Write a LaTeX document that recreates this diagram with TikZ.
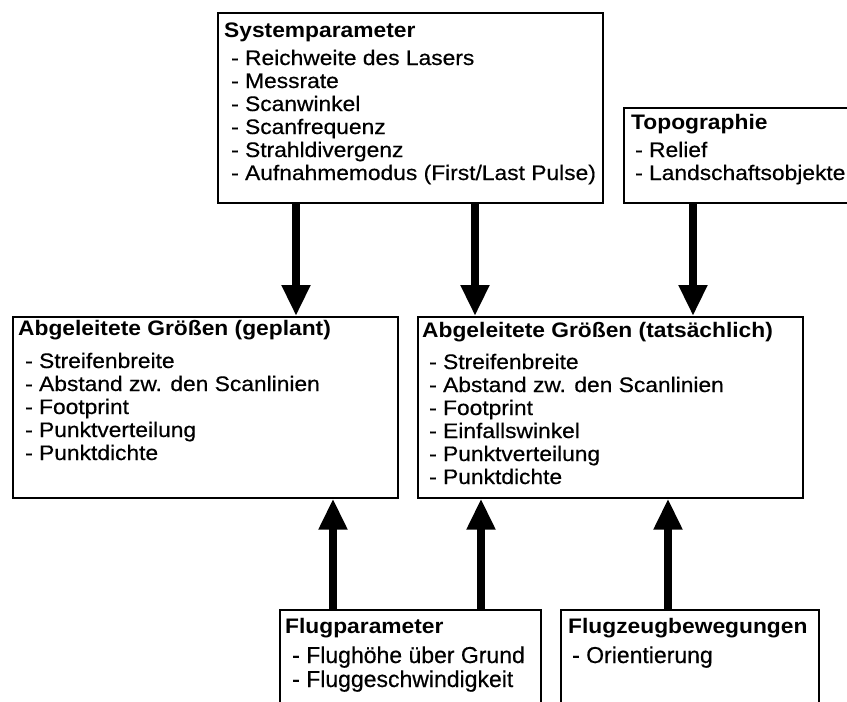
\documentclass[tikz,border=0pt]{standalone}
\usepackage{fontspec}
\setmainfont{Liberation Sans}
\newfontfamily\widesans[FakeStretch=1.085]{Liberation Sans}
\newfontfamily\widesanslist[FakeStretch=1.085, FakeBold=0.5]{Liberation Sans}
\newfontfamily\sanslist[FakeBold=0.5]{Liberation Sans}
\usetikzlibrary{arrows.meta}

\tikzset{
  panel/.style={draw=black, line width=1.6pt, anchor=north west, inner sep=0pt},
  flow/.style={line width=8pt, -{Triangle[width=27pt,length=31pt]}},
  heading/.style={anchor=base west, inner sep=0pt, font=\widesans\bfseries\fontsize{21}{23}\selectfont},
  item/.style={anchor=base west, inner sep=0pt, font=\widesanslist\fontsize{21}{23}\selectfont},
  lowitem/.style={anchor=base west, inner sep=0pt, font=\sanslist\fontsize{23}{24}\selectfont},
}

\begin{document}
\begin{tikzpicture}[x=1pt, y=-1pt]
  \fill[white] (0,0) rectangle (847,702);
  \useasboundingbox (0,0) rectangle (847,702);
  \clip (0,0) rectangle (847,702);

  % boxes
  \node[panel, minimum width=385pt, minimum height=190pt] (sys)  at (217,12)  {};
  \node[panel, minimum width=240pt, minimum height=95pt]  (topo) at (623,107) {};
  \node[panel, minimum width=385pt, minimum height=181pt] (plan) at (12,316)  {};
  \node[panel, minimum width=385pt, minimum height=181pt] (act)  at (417,316) {};
  \node[panel, minimum width=261pt, minimum height=120pt] (flug) at (279,609) {};
  \node[panel, minimum width=258pt, minimum height=120pt] (zeug) at (560,609) {};

  % Systemparameter
  \node[heading] (sys-h) at (224,37) {Systemparameter};
  \foreach \t [count=\i from 0] in {{Reichweite des Lasers}, {Messrate}, {Scanwinkel},
      {Scanfrequenz}, {Strahldivergenz}, {Aufnahmemodus (First/Last Pulse)}}
    \node[item] (sys-\i) at (231,{65+23*\i}) {- \t};

  % Topographie
  \node[heading] (topo-h) at (631,129) {Topographie};
  \foreach \t [count=\i from 0] in {{Relief}, {Landschaftsobjekte}}
    \node[item] (topo-\i) at (635,{157+23*\i}) {- \t};

  % Abgeleitete Groessen (geplant)
  \node[heading] (plan-h) at (18,335) {Abgeleitete Größen (geplant)};
  \foreach \t [count=\i from 0] in {{Streifenbreite}, {Abstand zw. den Scanlinien},
      {Footprint}, {Punktverteilung}, {Punktdichte}}
    \node[item] (plan-\i) at (25,{368+23*\i}) {- \t};

  % Abgeleitete Groessen (tatsaechlich)
  \node[heading] (act-h) at (422,337) {Abgeleitete Größen (tatsächlich)};
  \foreach \t [count=\i from 0] in {{Streifenbreite}, {Abstand zw. den Scanlinien},
      {Footprint}, {Einfallswinkel}, {Punktverteilung}, {Punktdichte}}
    \node[item] (act-\i) at (429,{369+23*\i}) {- \t};

  % Flugparameter
  \node[heading] (flug-h) at (285,633) {Flugparameter};
  \foreach \t [count=\i from 0] in {{Flughöhe über Grund}, {Fluggeschwindigkeit}}
    \node[lowitem] (flug-\i) at (292,{663+24*\i}) {- \t};

  % Flugzeugbewegungen
  \node[heading] (zeug-h) at (568,633) {Flugzeugbewegungen};
  \node[lowitem] (zeug-0) at (572,663) {- Orientierung};

  % connectors
  \draw[flow] (296,0 |- sys.south)  -- (296,0 |- plan.north);
  \draw[flow] (475,0 |- sys.south)  -- (475,0 |- act.north);
  \draw[flow] (693,0 |- topo.south) -- (693,0 |- act.north);
  \draw[flow] (333,0 |- flug.north) -- (333,0 |- plan.south);
  \draw[flow] (481,0 |- flug.north) -- (481,0 |- act.south);
  \draw[flow] (668,0 |- zeug.north) -- (668,0 |- act.south);
\end{tikzpicture}
\end{document}
